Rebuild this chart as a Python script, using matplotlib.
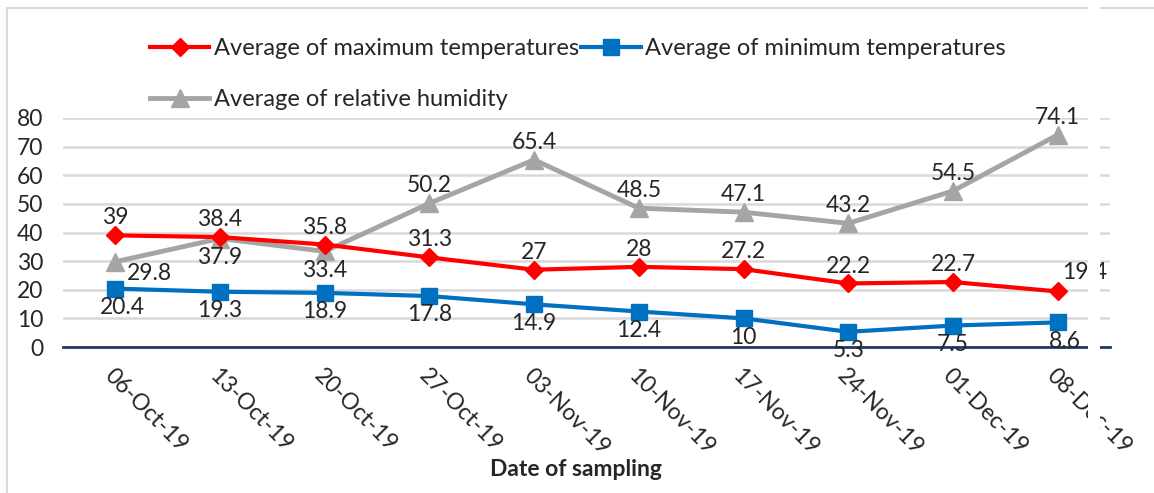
import numpy as np
import matplotlib.pyplot as plt
from matplotlib.patches import Rectangle

plt.rcParams['font.family'] = ['Lato', 'DejaVu Sans']

dates = ["06-Oct-19", "13-Oct-19", "20-Oct-19", "27-Oct-19", "03-Nov-19",
         "10-Nov-19", "17-Nov-19", "24-Nov-19", "01-Dec-19", "08-Dec-19"]
max_temp = [39, 38.4, 35.8, 31.3, 27, 28, 27.2, 22.2, 22.7, 19.4]
min_temp = [20.4, 19.3, 18.9, 17.8, 14.9, 12.4, 10, 5.3, 7.5, 8.6]
humidity = [29.8, 37.9, 33.4, 50.2, 65.4, 48.5, 47.1, 43.2, 54.5, 74.1]

RED = "#FF0000"
BLUE = "#0070C0"
GRAY = "#A5A5A5"
TXT = "#262626"
FS = 16.5

fig = plt.figure(figsize=(11.54, 4.93), dpi=100)
ax = fig.add_axes([63 / 1154, 1 - 347 / 493, (1110 - 63) / 1154, (347 - 118) / 493])

x = np.arange(len(dates))
l_max, = ax.plot(x, max_temp, color=RED, lw=3, marker="D", ms=9, zorder=4,
                 label="Average of maximum temperatures")
l_min, = ax.plot(x, min_temp, color=BLUE, lw=3, marker="s", ms=12, zorder=4,
                 label="Average of minimum temperatures")
l_hum, = ax.plot(x, humidity, color=GRAY, lw=3.5, marker="^", ms=13, zorder=3,
                 label="Average of relative humidity")

# data labels
for i, v in enumerate(max_temp):
    if i == len(max_temp) - 1:
        ax.annotate(f"{v:g}", (i, v), xytext=(3, 6), textcoords="offset points",
                    ha="left", va="bottom", fontsize=FS, color=TXT, zorder=6)
    else:
        ax.annotate(f"{v:g}", (i, v), xytext=(0, 5), textcoords="offset points",
                    ha="center", va="bottom", fontsize=FS, color=TXT, zorder=6)

for i, v in enumerate(min_temp):
    dx = 5 if i in (0, 9) else 0
    ax.annotate(f"{v:g}", (i, v), xytext=(dx, -6), textcoords="offset points",
                ha="center", va="top", fontsize=FS, color=TXT, zorder=6)

for i, v in enumerate(humidity):
    if i == 0:
        ax.annotate(f"{v:g}", (i, v), xytext=(8, -1), textcoords="offset points",
                    ha="left", va="top", fontsize=FS, color=TXT, zorder=6)
    elif i in (1, 2):
        ax.annotate(f"{v:g}", (i, v), xytext=(0, -6), textcoords="offset points",
                    ha="center", va="top", fontsize=FS, color=TXT, zorder=6)
    else:
        ax.annotate(f"{v:g}", (i, v), xytext=(0, 5), textcoords="offset points",
                    ha="center", va="bottom", fontsize=FS, color=TXT, zorder=6)

ax.set_xlim(-0.5, len(dates) - 0.5)
ax.set_ylim(0, 80)
ax.set_yticks(range(0, 81, 10))
ax.yaxis.grid(True, color="#D9D9D9", lw=1.8, zorder=0)
ax.set_axisbelow(True)
for s in ("left", "right", "top"):
    ax.spines[s].set_visible(False)
ax.spines["bottom"].set_color("#1F3864")
ax.spines["bottom"].set_linewidth(2)
ax.spines["bottom"].set_zorder(2.5)

ax.set_xticks(x)
ax.set_xticklabels(dates, rotation=-45, ha="left", va="top", rotation_mode="anchor")
ax.tick_params(axis="x", length=0, pad=13, labelsize=FS, labelcolor=TXT)
ax.tick_params(axis="y", length=0, pad=14, labelsize=FS, labelcolor=TXT)

ax.set_xlabel("Date of sampling", fontsize=FS, fontweight="bold", color=TXT,
              labelpad=0)
ax.xaxis.set_label_coords(0.49, -0.49)

fig.legend([l_max, l_hum, l_min],
           [l_max.get_label(), l_hum.get_label(), l_min.get_label()],
           ncol=2, loc="upper left", bbox_to_anchor=(129 / 1154, 1 - 17 / 493),
           frameon=False, fontsize=17, handlelength=2.5, handletextpad=0.2,
           columnspacing=0.1, labelspacing=1.25, labelcolor=TXT)

# chart border and the thin white strip seen in the picture
fig.add_artist(Rectangle((7 / 1154, -0.1), 1.2, 1 - 8 / 493 + 0.1,
                         transform=fig.transFigure, fill=False,
                         edgecolor="#D9D9D9", lw=1.5))
fig.add_artist(Rectangle((1088 / 1154, 0), 12 / 1154, 1,
                         transform=fig.transFigure, facecolor="white",
                         edgecolor="none", zorder=10))

fig.savefig("out.png", dpi=100)
